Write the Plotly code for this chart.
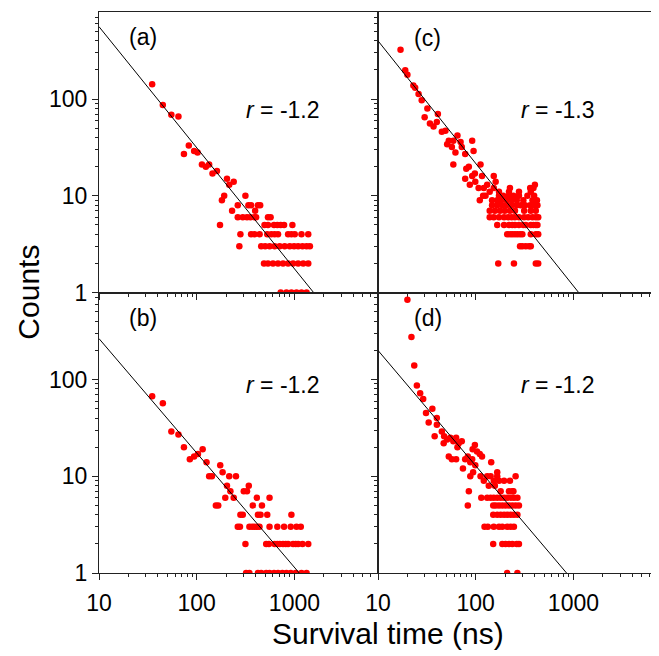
import plotly.graph_objects as go
from plotly.subplots import make_subplots

# ---- data (survival time in ns, counts) ----
# scattered points above the integer "rows"
a_time = [35, 45, 55, 65, 74, 83, 94, 102, 113, 124, 134, 145, 161, 191, 204, 215, 239,
          181, 173, 230, 263, 315, 338, 360, 423, 446, 396]
a_counts = [142, 87, 69, 66, 27, 33, 29, 28, 21, 20, 21, 17, 18, 10, 15, 13, 14,
            9, 5, 7, 8, 10, 8, 8, 8, 8, 7]
a_row_levels = [6, 5, 4, 3, 2, 1]
a_row_times = [
    [263, 296, 327, 355, 390, 405, 536, 570],
    [494, 536, 618, 668, 723, 783, 953],
    [280, 360, 390, 440, 527, 580, 627, 679, 861, 931, 1007, 1180, 1384],
    [273, 457, 502, 557, 627, 705, 794, 895, 991, 1091, 1208, 1330, 1439],
    [488, 536, 603, 679, 764, 861, 968, 1091, 1230, 1384],
    [723, 828, 931, 1050, 1180, 1330],
]

b_time = [35, 45, 55, 65, 74, 85, 94, 103, 115, 126, 134, 143, 174, 184, 215, 252, 204, 221,
          196, 239, 157, 166, 303, 327, 341, 412, 556, 375, 465, 315]
b_counts = [67, 57, 29, 27, 20, 15, 16, 17, 19, 14, 10, 10, 13, 11, 10, 10, 8, 7,
            6, 6, 5, 5, 7, 7, 8, 6, 6, 5, 5, 2]
b_row_levels = [4, 3, 2, 1]
b_row_times = [
    [280, 296, 423, 450, 527, 931],
    [263, 277, 346, 369, 390, 416, 439, 556, 668, 783, 916, 1050, 1161],
    [514, 548, 627, 668, 706, 764, 813, 861, 968, 1030, 1091, 1208, 1384],
    [320, 346, 423, 457, 514, 556, 618, 679, 752, 828, 916, 1030, 1180, 1330],
]

c_time = [17, 19, 20, 23, 24, 26, 28, 32, 30, 34, 37, 41, 40, 45, 49, 53, 51, 57, 59, 65,
          62, 70, 72, 59, 78, 92, 95, 80, 85, 78, 87, 92, 98, 99, 112, 116, 153, 160, 131, 403]
c_counts = [323, 198, 178, 138, 131, 113, 97, 80, 65, 56, 52, 70, 58, 46, 47, 37, 34, 32, 37, 42,
            28, 36, 32, 21, 27, 37, 29, 19, 20, 15, 13, 16, 17, 14, 21, 16, 16, 14, 13, 13]
c_row_levels = [12, 11, 10, 9, 8, 7, 6, 5, 4, 3, 2]
c_row_times = [
    [107, 121, 153, 224, 361, 390],
    [139, 173, 219, 277, 366],
    [119, 126, 173, 191, 219, 243, 277, 338, 396],
    [110, 147, 166, 182, 207, 233, 263, 307, 381, 423],
    [147, 166, 187, 207, 233, 263, 289, 320, 361, 396, 428],
    [139, 157, 177, 198, 224, 252, 313, 366, 412],
    [139, 153, 173, 195, 215, 233, 252, 277, 313, 344, 381, 412, 436],
    [166, 195, 219, 237, 252, 277, 307, 325, 366, 390, 412, 428],
    [210, 224, 237, 252, 267, 284, 300, 366, 412, 436],
    [284, 300, 325, 352, 366],
    [170, 246, 412, 436],
]

d_time = [20, 22, 23.5, 25, 27, 29, 31, 36, 33, 40, 40, 38, 45, 47.5, 47, 51, 55, 59, 63, 67,
          72, 65, 53, 57, 63, 74, 78, 83, 93, 98, 103, 110, 92, 88, 99, 116, 94, 88, 85, 83,
          112, 121, 144, 131, 142, 166, 166, 153, 136, 157, 173, 180, 195, 219, 243, 256, 237, 224]
d_counts = [670, 276, 140, 87, 72, 63, 45, 50, 36, 40, 34, 26, 29, 26, 22, 24, 25, 23, 25, 22,
            23, 20, 16, 15, 15, 12, 15, 16, 19, 21, 18, 17, 15, 14, 13, 16, 11, 10, 7, 5,
            10, 9, 14, 10, 10, 11, 10, 9, 8, 8, 9, 7, 9, 7, 7, 10, 7, 9]
d_row_levels = [6, 5, 4, 3, 2, 1]
d_row_times = [
    [114, 131, 142, 153, 166, 180, 195, 210, 228, 246, 267],
    [151, 160, 173, 187, 202, 219, 237, 256, 277],
    [151, 166, 180, 195, 210, 228, 246, 267],
    [123, 133, 153, 173, 187, 210, 228, 246],
    [151, 187, 202, 219, 237, 263, 277],
    [210, 267],
]

# power-law fit lines (end points)
a_fit_t, a_fit_c = [10, 1570], [560, 1]
b_fit_t, b_fit_c = [10, 1120], [265, 1]
c_fit_t, c_fit_c = [10, 1130], [400, 1]
d_fit_t, d_fit_c = [10, 850], [200, 1]

panel_labels = ['(a)', '(b)', '(c)', '(d)']
exponents = ['-1.2', '-1.2', '-1.3', '-1.2']

FONT = 'Arial, Liberation Sans, sans-serif'


def flatten(times, counts, levels, rows):
    xs, ys = list(times), list(counts)
    for lev, row in zip(levels, rows):
        xs += row
        ys += [lev] * len(row)
    return xs, ys


panels = [
    (1, 1, flatten(a_time, a_counts, a_row_levels, a_row_times), (a_fit_t, a_fit_c)),
    (2, 1, flatten(b_time, b_counts, b_row_levels, b_row_times), (b_fit_t, b_fit_c)),
    (1, 2, flatten(c_time, c_counts, c_row_levels, c_row_times), (c_fit_t, c_fit_c)),
    (2, 2, flatten(d_time, d_counts, d_row_levels, d_row_times), (d_fit_t, d_fit_c)),
]

fig = make_subplots(rows=2, cols=2, horizontal_spacing=0, vertical_spacing=0)

for row, col, (xs, ys), (ft, fc) in panels:
    fig.add_trace(go.Scatter(x=xs, y=ys, mode='markers',
                             marker=dict(color='#ff0000', size=6.5, line_width=0)),
                  row=row, col=col)
    fig.add_trace(go.Scatter(x=ft, y=fc, mode='lines',
                             line=dict(color='black', width=1)),
                  row=row, col=col)

x_minor = [2, 3, 4, 5, 6, 7, 8, 9, 20, 30, 40, 50, 60, 70, 80, 90,
           200, 300, 400, 500, 600, 700, 800, 900, 2000, 3000, 4000, 5000, 6000]
y_minor = [2, 3, 4, 5, 6, 7, 8, 9, 20, 30, 40, 50, 60, 70, 80, 90, 200, 300, 400, 500, 600, 700, 800]

axis_common = dict(type='log', showline=True, linecolor='#222222', linewidth=1.2, mirror=True,
                   ticks='outside', ticklen=6, tickwidth=1, tickcolor='#222222',
                   showgrid=False, zeroline=False, automargin=False,
                   tickfont=dict(family=FONT, size=23, color='black'))

for row in (1, 2):
    for col in (1, 2):
        fig.update_xaxes(axis_common, range=[1, 3.855], tickvals=[10, 100, 1000],
                         ticktext=['10', '100', '1000'], showticklabels=(row == 2),
                         ticklabelstandoff=3,
                         minor=dict(tickvals=x_minor, ticks='outside', ticklen=3,
                                    tickcolor='#222222', showgrid=False),
                         row=row, col=col)
        fig.update_yaxes(axis_common, range=[0, 2.9], tickvals=[1, 10, 100],
                         ticktext=['1', '10', '100'], showticklabels=(col == 1),
                         minor=dict(tickvals=y_minor, ticks='outside', ticklen=3,
                                    tickcolor='#222222', showgrid=False),
                         row=row, col=col)

# panel labels and exponents
axis_names = [('x', 'y'), ('x3', 'y3'), ('x2', 'y2'), ('x4', 'y4')]
label_pos = [(0.158, 0.91), (0.158, 0.91), (0.176, 0.908), (0.179, 0.908)]
r_pos = [(0.66, 0.65), (0.66, 0.67), (0.645, 0.65), (0.645, 0.67)]
for (xa, ya), lab, lp, rp, ex in zip(axis_names, panel_labels, label_pos, r_pos, exponents):
    fig.add_annotation(text=lab, xref=f'{xa} domain', yref=f'{ya} domain', x=lp[0], y=lp[1],
                       xanchor='center', yanchor='middle', showarrow=False,
                       font=dict(family=FONT, size=23, color='black'))
    fig.add_annotation(text=f'<i>r</i> = {ex}', xref=f'{xa} domain', yref=f'{ya} domain',
                       x=rp[0], y=rp[1], xanchor='center', yanchor='middle', showarrow=False,
                       font=dict(family=FONT, size=23, color='black'))

fig.add_annotation(text='Counts', xref='paper', yref='paper', x=-0.127, y=0.5,
                   xanchor='center', yanchor='middle', textangle=-90, showarrow=False,
                   font=dict(family=FONT, size=30, color='black'))
fig.add_annotation(text='Survival time (ns)', xref='paper', yref='paper', x=0.518, y=-0.107,
                   xanchor='center', yanchor='middle', showarrow=False,
                   font=dict(family=FONT, size=30, color='black'))

# the page body adds an 8 px margin, so the figure is sized to fit inside the window
fig.update_layout(
    width=651, height=648,
    margin=dict(l=91, r=2, t=4, b=83),
    showlegend=False,
    plot_bgcolor='white', paper_bgcolor='white',
)

fig.write_html('out.html')
